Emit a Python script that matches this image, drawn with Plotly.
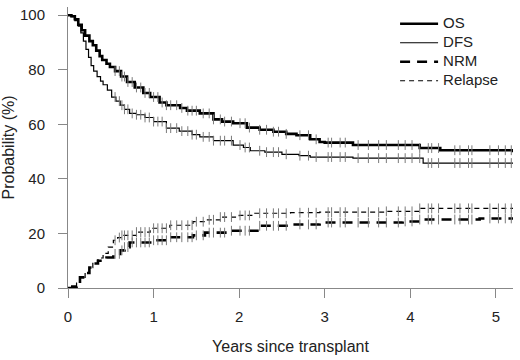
import plotly.graph_objects as go

# ---- data ----
os_t = [0, 0.04, 0.08, 0.12, 0.16, 0.2, 0.25, 0.29, 0.33, 0.37, 0.4, 0.45, 0.49, 0.55, 0.62, 0.69, 0.78, 0.88, 0.96, 1.07, 1.15, 1.31, 1.39, 1.54, 1.7, 1.8, 1.93, 2.09, 2.24, 2.4, 2.55, 2.67, 2.83, 2.94, 3.0, 3.18, 3.33, 4.03, 4.11, 4.35, 4.9, 5.2]
os_v = [100, 99.6, 98.5, 96.5, 94.5, 92.5, 90.5, 89, 87, 85, 83.6, 82.2, 81, 79.5, 77.5, 75.5, 73.5, 71.5, 70, 68, 67, 66, 65, 64, 61.8, 61, 60.4, 58.8, 58, 57.3, 56.5, 56, 54.5, 53.5, 53.3, 53.3, 52.4, 52.4, 51.3, 50.5, 50.5, 49.8]

dfs_t = [0, 0.04, 0.08, 0.12, 0.15, 0.18, 0.21, 0.24, 0.27, 0.3, 0.34, 0.38, 0.41, 0.46, 0.51, 0.56, 0.61, 0.66, 0.72, 0.8, 0.9, 1.0, 1.15, 1.3, 1.45, 1.54, 1.7, 1.93, 2.05, 2.13, 2.3, 2.5, 2.7, 2.83, 3.0, 3.33, 4.03, 4.15, 5.2]
dfs_v = [100, 99.5, 98, 96, 93.5, 90.5, 87.5, 84.5, 81.5, 79.5, 77.5, 75.8, 74.5, 72.5, 70, 68.5, 67, 65.5, 64, 63.5, 62.5, 61, 58.6, 57.5, 56.2, 55.4, 54, 52.4, 51.5, 50.3, 49.8, 49, 48.5, 48, 48, 47.6, 47.6, 45.8, 45.8]

nrm_t = [0, 0.05, 0.1, 0.14, 0.2, 0.25, 0.29, 0.35, 0.45, 0.53, 0.61, 0.66, 0.72, 0.96, 1.19, 1.46, 1.6, 1.86, 2.24, 2.6, 2.94, 3.41, 3.91, 4.11, 4.81, 5.2]
nrm_v = [0, 0.5, 1.8, 3.9, 5.5, 7.5, 9, 10, 11.2, 12.5, 13.8, 15, 16.7, 17.5, 18.6, 19.3, 20.3, 21, 22.8, 23.3, 24, 24, 24.4, 25.1, 25.5, 25.5]

rel_t = [0, 0.05, 0.1, 0.14, 0.2, 0.25, 0.29, 0.35, 0.41, 0.47, 0.53, 0.58, 0.63, 0.8, 0.96, 1.19, 1.46, 1.6, 1.78, 2.0, 2.17, 2.6, 2.94, 3.72, 4.11, 5.2]
rel_v = [0, 0.5, 1.8, 3.9, 5.5, 7.5, 9, 11, 12.7, 15, 17.5, 18.5, 19.3, 20.5, 21.9, 23, 24.3, 25, 26, 26.6, 27.4, 27.6, 27.8, 28.1, 29.2, 29.2]

censor_t = [0.55, 0.6, 0.63, 0.66, 0.7, 0.75, 0.8, 0.85, 0.9, 0.95, 1.0, 1.05, 1.1, 1.15, 1.2, 1.27,
            1.33, 1.4, 1.45, 1.5, 1.58, 1.65, 1.7, 1.78, 1.83, 1.91, 2.01, 2.07, 2.12, 2.24, 2.32,
            2.40, 2.46, 2.55, 2.71, 2.81, 2.90, 3.04, 3.08, 3.18, 3.24, 3.39, 3.51, 3.63, 3.72,
            3.86, 3.94, 4.02, 4.11, 4.21, 4.25, 4.33, 4.52, 4.58, 4.68, 4.72, 4.93, 5.03, 5.11, 5.18]

x_ticks = [0, 1, 2, 3, 4, 5]
y_ticks = [0, 20, 40, 60, 80, 100]


def step_at(ts, vs, t):
    v = vs[0]
    for ti, vi in zip(ts, vs):
        if ti <= t:
            v = vi
        else:
            break
    return v


fig = go.Figure()

curves = [
    ("OS", os_t, os_v, dict(color="black", width=2.6)),
    ("DFS", dfs_t, dfs_v, dict(color="black", width=1.2)),
    ("NRM", nrm_t, nrm_v, dict(color="black", width=2.6, dash="10px,7px")),
    ("Relapse", rel_t, rel_v, dict(color="black", width=1.2, dash="5px,4px")),
]

for name, ts, vs, ln in curves:
    fig.add_trace(go.Scatter(x=ts, y=vs, mode="lines", line_shape="hv", line=ln,
                             name="<span style='font-size:15px'>" + name + "</span>"))

for name, ts, vs, ln in curves:
    fig.add_trace(go.Scatter(
        x=censor_t, y=[step_at(ts, vs, t) for t in censor_t], mode="markers",
        marker=dict(symbol="line-ns", size=7, line=dict(color="#7a7a7a", width=1)),
        showlegend=False, hoverinfo="skip"))

fig.update_layout(
    width=520, height=360,
    margin=dict(l=68, r=7, t=7, b=72),
    plot_bgcolor="white", paper_bgcolor="white",
    font=dict(family="Liberation Sans, Arial, sans-serif", size=15, color="#222"),
    showlegend=True,
    legend=dict(x=0.735, y=0.992, xanchor="left", yanchor="top", bgcolor="rgba(0,0,0,0)",
                font=dict(size=12), tracegroupgap=0, itemwidth=38),
    xaxis=dict(range=[0, 5.2], tickvals=x_ticks, showline=True, linecolor="#888", linewidth=1,
               ticks="outside", ticklen=9, tickcolor="#888", showgrid=False, zeroline=False,
               ticklabelstandoff=6, automargin=False, tickfont=dict(size=15),
               title=dict(text="Years since transplant", standoff=16, font=dict(size=16))),
    yaxis=dict(range=[0, 103], tickvals=y_ticks, showline=True, linecolor="#888", linewidth=1,
               ticks="outside", ticklen=9, tickcolor="#888", showgrid=False, zeroline=False,
               ticklabelstandoff=10, automargin=False, tickfont=dict(size=15),
               title=dict(text="Probability (%)", standoff=8, font=dict(size=16))),
)

fig.write_html("out.html", config={"displayModeBar": False},
               post_script="document.body.style.margin='0';")
